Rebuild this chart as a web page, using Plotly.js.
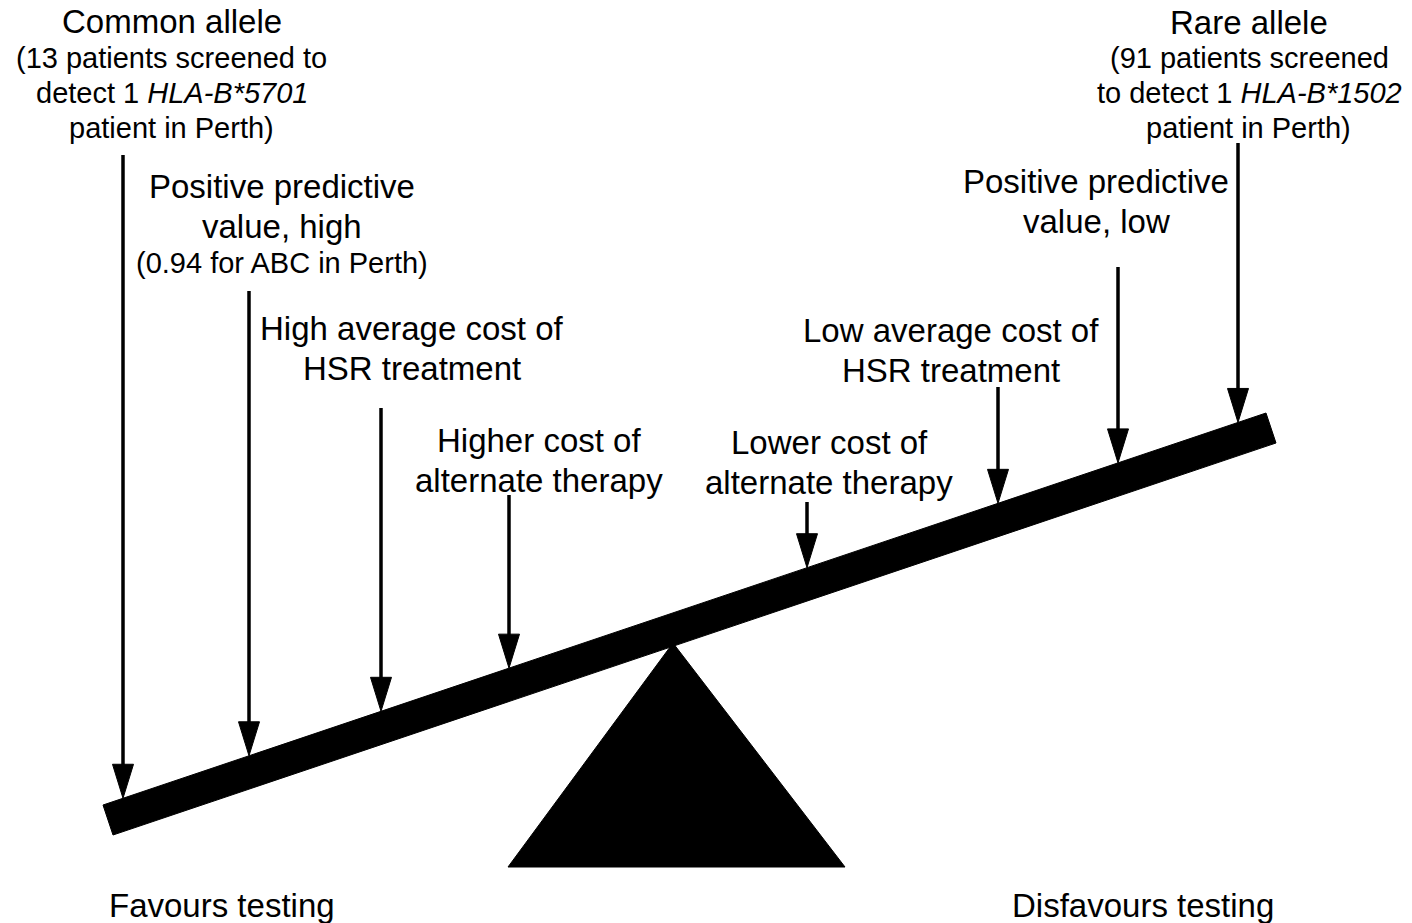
<!DOCTYPE html>
<html>
<head>
<meta charset="utf-8">
<script src="https://cdn.plot.ly/plotly-3.0.1.min.js"></script>
<style>html,body{margin:0;padding:0;background:#fff;}#chart{width:1412px;height:923px;}</style>
</head>
<body>
<div id="chart"></div>
<script>
// ---- data ----
// arrows: horizontal position where each factor presses on the beam, and where its shaft starts
const arrowLabels = ["Common allele", "Positive predictive value, high", "High average cost of HSR treatment",
  "Higher cost of alternate therapy", "Lower cost of alternate therapy", "Low average cost of HSR treatment",
  "Positive predictive value, low", "Rare allele"];
const arrowX = [123, 249, 381, 509, 807, 998, 1118, 1238];
const arrowTop = [155, 291, 408, 495, 502, 387, 267, 143];

// beam (top edge end points) and fulcrum
const beamLeft = [103, 805];
const beamRight = [1266, 413];
const beamThickness = [10, 30];
const fulcrumX = [673, 508, 845];
const fulcrumY = [643, 867, 867];

// text lines: text, centre x, centre y, size class
const lineText = [
  "Common allele", "(13 patients screened to", "detect 1 <i>HLA-B*5701</i>", "patient in Perth)",
  "Positive predictive", "value, high", "(0.94 for ABC in Perth)",
  "High average cost of", "HSR treatment",
  "Higher cost of", "alternate therapy",
  "Lower cost of", "alternate therapy",
  "Low average cost of", "HSR treatment",
  "Positive predictive", "value, low",
  "Rare allele", "(91 patients screened", "to detect 1 <i>HLA-B*1502</i>", "patient in Perth)",
  "Favours testing", "Disfavours testing"
];
const lineX = [172, 171, 172, 171, 282, 282, 282, 412, 412, 539, 539, 829, 829, 951, 951, 1096, 1096, 1249, 1249, 1249, 1248, 222, 1143];
const lineY = [21, 58, 93, 128, 186, 226, 263, 328, 368, 440, 480, 442, 482, 330, 370, 181, 221, 22, 58, 93, 128, 905, 905];
const lineSize = ["L", "S", "S", "S", "L", "L", "S", "L", "L", "L", "L", "L", "L", "L", "L", "L", "L", "L", "S", "S", "S", "L", "L"];

// ---- build ----
const FONT = "Liberation Sans, Arial, Helvetica, sans-serif";
const sizes = {L: 33, S: 29};
const slope = (beamRight[1] - beamLeft[1]) / (beamRight[0] - beamLeft[0]);
const beamTopY = x => beamLeft[1] + (x - beamLeft[0]) * slope;

const traces = [];
// fulcrum
traces.push({x: fulcrumX.concat([fulcrumX[0]]), y: fulcrumY.concat([fulcrumY[0]]), mode: "lines",
  fill: "toself", fillcolor: "#000", line: {color: "#000", width: 1}, hoverinfo: "skip", showlegend: false});
// beam
traces.push({
  x: [beamLeft[0], beamRight[0], beamRight[0] + beamThickness[0], beamLeft[0] + beamThickness[0], beamLeft[0]],
  y: [beamLeft[1], beamRight[1], beamRight[1] + beamThickness[1], beamLeft[1] + beamThickness[1], beamLeft[1]],
  mode: "lines", fill: "toself", fillcolor: "#000", line: {color: "#000", width: 1}, hoverinfo: "skip", showlegend: false});
// arrows
const headLen = 34, headHalf = 10.5;
arrowX.forEach((x, i) => {
  const tip = beamTopY(x);
  traces.push({x: [x, x], y: [arrowTop[i], tip - headLen + 2], mode: "lines", name: arrowLabels[i],
    line: {color: "#000", width: 3.5}, hoverinfo: "skip", showlegend: false});
  traces.push({x: [x - headHalf, x + headHalf, x, x - headHalf], y: [tip - headLen, tip - headLen, tip, tip - headLen],
    mode: "lines", fill: "toself", fillcolor: "#000", line: {color: "#000", width: 1}, hoverinfo: "skip", showlegend: false});
});

const annotations = lineText.map((t, i) => ({
  x: lineX[i], y: lineY[i], xref: "x", yref: "y", text: t, showarrow: false,
  xanchor: "center", yanchor: "middle", font: {family: FONT, size: sizes[lineSize[i]], color: "#000"}
}));

const layout = {
  width: 1412, height: 923, margin: {l: 0, r: 0, t: 0, b: 0},
  paper_bgcolor: "#fff", plot_bgcolor: "#fff",
  xaxis: {range: [0, 1412], visible: false, fixedrange: true},
  yaxis: {range: [923, 0], visible: false, fixedrange: true},
  annotations: annotations, showlegend: false
};
Plotly.newPlot("chart", traces, layout, {displayModeBar: false, staticPlot: true});
</script>
</body>
</html>
